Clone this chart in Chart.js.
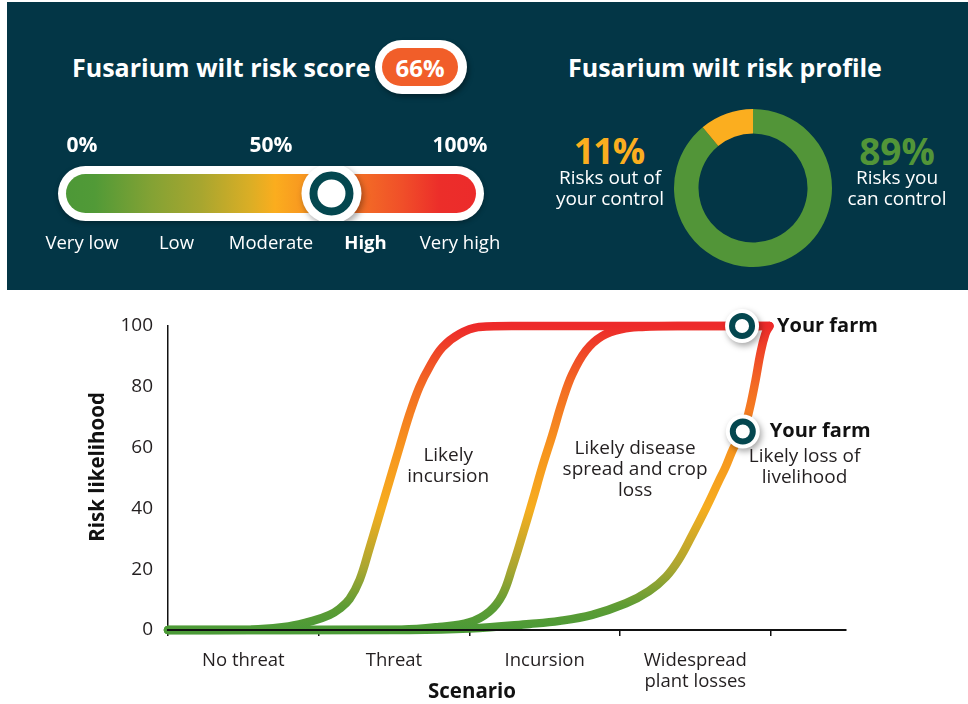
<!DOCTYPE html>
<html><head><meta charset="utf-8">
<script src="https://cdn.jsdelivr.net/npm/chart.js@4.4.1/dist/chart.umd.min.js"></script>
<style>
html,body{margin:0;padding:0;background:#fff;}
body{width:968px;height:704px;position:relative;overflow:hidden;font-family:'Open Sans',sans-serif;}
#panel{position:absolute;left:7px;top:2px;width:961px;height:288px;background:#033646;}
canvas{position:absolute;}
.t{position:absolute;white-space:nowrap;color:#fff;}
.c{transform:translate(-50%,-50%);text-align:center;}
.l{transform:translateY(-50%);}
</style></head><body>
<div id="panel"></div>
<div class="t l" style="left:72px;top:67px;font-weight:700;font-size:25px;">Fusarium wilt risk score</div>
<div style="position:absolute;left:375px;top:40px;width:92px;height:54px;border-radius:27px;background:#fff;box-shadow:2px 3px 5px rgba(0,0,0,0.35);"></div>
<div style="position:absolute;left:382px;top:48px;width:76px;height:38px;border-radius:19px;background:#F15E29;"></div>
<div class="t c" id="scoreText" style="left:420px;top:67px;font-weight:700;font-size:24px;"></div>
<canvas id="gauge" width="520" height="290" style="left:0;top:0;"></canvas>

<div class="t l" style="left:568px;top:67px;font-weight:700;font-size:25px;">Fusarium wilt risk profile</div>
<canvas id="donut" width="178" height="178" style="left:664px;top:99px;"></canvas>
<div class="t c" id="outPct" style="left:609px;top:150px;font-weight:700;font-size:36px;color:#FBAE1F;letter-spacing:-1px;"></div>
<div class="t c" id="outLbl" style="left:610px;top:188px;font-size:19px;line-height:21px;"></div>
<div class="t c" id="inPct" style="left:897px;top:150px;font-weight:700;font-size:37px;color:#529538;"></div>
<div class="t c" id="inLbl" style="left:897px;top:188px;font-size:19px;line-height:21px;"></div>

<canvas id="curves" width="968" height="414" style="left:0;top:290px;"></canvas>

<script>
const FONT = "'Open Sans', sans-serif";

// ---- Risk score gauge ----
const riskScore = 66;
const gaugeTicks = [0, 50, 100];
const gaugeTickLabels = ['0%', '50%', '100%'];
const bandTicks = [0, 25, 50, 75, 100];
const bandLabels = ['Very low', 'Low', 'Moderate', 'High', 'Very high'];
const currentBand = 'High';

// ---- Risk profile doughnut ----
const profileLabels = [['Risks you', 'can control'], ['Risks out of', 'your control']];
const profileValues = [89, 11];
const profileColors = ['#529538', '#FBAE1F'];

// ---- Scenario curves ----
const scenarioTicks = [0.5, 1.5, 2.5, 3.5];
const scenarioLabels = ['No threat', 'Threat', 'Incursion', ['Widespread', 'plant losses']];
const likelihoodTicks = [0, 20, 40, 60, 80, 100];

const incursionX = [0, 0.55, 0.8, 0.96, 1.073, 1.139, 1.205, 1.272, 1.338, 1.404, 1.47, 1.536, 1.603, 1.669, 1.735, 1.821, 1.934, 2.066, 2.3, 3.99];
const incursionY = [0, 0.1, 1.2, 3, 5, 7, 10.2, 16.5, 27, 38, 49, 60, 71, 80, 86.5, 93, 97.4, 99.7, 100, 100];

const spreadX = [0, 1.55, 1.8, 2.0, 2.132, 2.219, 2.285, 2.351, 2.417, 2.483, 2.55, 2.616, 2.682, 2.775, 2.881, 3.013, 3.146, 3.4, 3.99];
const spreadY = [0, 0.1, 1.0, 2.5, 6, 11.5, 20.5, 31, 42, 53.5, 64, 75, 84, 92, 96.7, 99, 99.7, 100, 100];

const livelihoodX = [0, 1.6, 2.0, 2.4, 2.6, 2.815, 3.04, 3.192, 3.305, 3.391, 3.477, 3.57, 3.656, 3.7, 3.755, 3.815, 3.854, 3.899, 3.932, 3.965, 3.993];
const livelihoodY = [0, 0, 0.5, 2.0, 3.0, 5, 8.8, 12.8, 17.5, 23.2, 31, 40, 49, 53.5, 60, 65.3, 71.5, 82, 91, 97.4, 100];

const farmX = [3.81, 3.815];
const farmY = [100, 65.3];
const farmLabel = 'Your farm';

const stageNotes = [
  { lines: ['Likely', 'incursion'], x: 1.86, y: 53.8 },
  { lines: ['Likely disease', 'spread and crop', 'loss'], x: 3.10, y: 52.8 },
  { lines: ['Likely loss of', 'livelihood'], x: 4.225, y: 53.6 }
];

// ---- texts ----
document.getElementById('scoreText').textContent = riskScore + '%';
document.getElementById('inPct').textContent = profileValues[0] + '%';
document.getElementById('outPct').textContent = profileValues[1] + '%';
document.getElementById('inLbl').innerHTML = profileLabels[0].join('<br>');
document.getElementById('outLbl').innerHTML = profileLabels[1].join('<br>');

function pill(ctx, x, y, w, h) {
  const r = h / 2;
  ctx.beginPath();
  ctx.moveTo(x + r, y);
  ctx.lineTo(x + w - r, y);
  ctx.arc(x + w - r, y + r, r, -Math.PI / 2, Math.PI / 2);
  ctx.lineTo(x + r, y + h);
  ctx.arc(x + r, y + r, r, Math.PI / 2, Math.PI * 1.5);
  ctx.closePath();
}

const shadowPlugin = {
  id: 'shadowPlugin',
  beforeDatasetDraw(chart, args) {
    if (chart.data.datasets[args.index].shadow) {
      const c = chart.ctx; c.save();
      c.shadowColor = 'rgba(0,0,0,0.35)'; c.shadowBlur = 6; c.shadowOffsetX = 2; c.shadowOffsetY = 3;
    }
  },
  afterDatasetDraw(chart, args) {
    if (chart.data.datasets[args.index].shadow) chart.ctx.restore();
  }
};

const gaugeTrack = {
  id: 'gaugeTrack',
  beforeDatasetsDraw(chart) {
    const { ctx, chartArea, scales: { x } } = chart;
    const x0 = x.getPixelForValue(0) - 24, x1 = x.getPixelForValue(100) + 24;
    const top = chartArea.top, h = chartArea.bottom - chartArea.top;
    ctx.save();
    ctx.shadowColor = 'rgba(0,0,0,0.3)'; ctx.shadowBlur = 5; ctx.shadowOffsetY = 2;
    pill(ctx, x0, top, x1 - x0, h); ctx.fillStyle = '#fff'; ctx.fill();
    ctx.restore();
    ctx.save();
    const inset = 8;
    const g = ctx.createLinearGradient(x0 + inset, 0, x1 - inset, 0);
    g.addColorStop(0, '#4D9837'); g.addColorStop(0.07, '#519A37'); g.addColorStop(0.21, '#84A234');
    g.addColorStop(0.33, '#A8A62F'); g.addColorStop(0.45, '#DBAE25'); g.addColorStop(0.51, '#FBAD1E');
    g.addColorStop(0.67, '#F47B24'); g.addColorStop(0.82, '#F04F29'); g.addColorStop(0.91, '#EC2E2A'); g.addColorStop(1, '#EC2B2B');
    pill(ctx, x0 + inset, top + inset, x1 - x0 - 2 * inset, h - 2 * inset); ctx.fillStyle = g; ctx.fill();
    ctx.restore();
  }
};

new Chart(document.getElementById('gauge'), {
  type: 'scatter',
  data: { datasets: [
    { data: [{ x: riskScore, y: 0 }], order: 1, pointRadius: 18, pointBackgroundColor: '#fff', pointBorderColor: '#04474F', pointBorderWidth: 8 },
    { data: [{ x: riskScore, y: 0 }], order: 2, pointRadius: 30, pointBackgroundColor: '#fff', pointBorderWidth: 0, shadow: true }
  ] },
  options: {
    responsive: false, animation: false, events: [],
    layout: { padding: { left: 82, right: 60, top: 126, bottom: 29 } },
    plugins: { legend: { display: false }, tooltip: { enabled: false } },
    scales: {
      x: {
        type: 'linear', position: 'bottom', min: 0, max: 100,
        afterBuildTicks: s => { s.ticks = bandTicks.map(v => ({ value: v })); },
        afterFit: s => { s.height = 40; },
        grid: { display: false, drawTicks: false }, border: { display: false },
        ticks: { color: '#fff', padding: 12, maxRotation: 0, autoSkip: false,
          font: c => ({ family: FONT, size: 18.5, weight: bandLabels[c.index] === currentBand ? 'bold' : 'normal' }),
          callback: (v, i) => bandLabels[i] }
      },
      xTop: {
        type: 'linear', axis: 'x', position: 'top', min: 0, max: 100,
        afterBuildTicks: s => { s.ticks = gaugeTicks.map(v => ({ value: v })); },
        afterFit: s => { s.height = 40; },
        grid: { display: false, drawTicks: false }, border: { display: false },
        ticks: { color: '#fff', padding: 7, maxRotation: 0, autoSkip: false,
          font: { family: FONT, size: 21, weight: 'bold' },
          callback: (v, i) => gaugeTickLabels[i] }
      },
      y: { display: false, min: -1, max: 1 }
    }
  },
  plugins: [gaugeTrack, shadowPlugin]
});

new Chart(document.getElementById('donut'), {
  type: 'doughnut',
  data: { labels: profileLabels.map(l => l.join(' ')), datasets: [{ data: profileValues, backgroundColor: profileColors, borderWidth: 0 }] },
  options: { responsive: false, animation: false, events: [], cutout: '69%', layout: { padding: 10 },
    plugins: { legend: { display: false }, tooltip: { enabled: false } } }
});

function riskGradient(chart) {
  const { ctx, chartArea } = chart;
  const g = ctx.createLinearGradient(0, chartArea.bottom, 0, chartArea.top);
  g.addColorStop(0, '#4B9A37'); g.addColorStop(0.08, '#5E9C34'); g.addColorStop(0.2, '#A8A631');
  g.addColorStop(0.4, '#F6AD1F'); g.addColorStop(0.6, '#F7941E'); g.addColorStop(0.8, '#F36C23');
  g.addColorStop(0.95, '#EE3A29'); g.addColorStop(1, '#ED2A2A');
  return g;
}
const mk = (xs, ys) => xs.map((x, i) => ({ x, y: ys[i] }));
const lineStyle = {
  borderColor: c => c.chart.chartArea ? riskGradient(c.chart) : '#4B9A37',
  borderWidth: 8.5, pointRadius: 0, tension: 0.4,
  borderCapStyle: 'round', borderJoinStyle: 'round', fill: false, clip: false, order: 3
};

const curveDecor = {
  id: 'curveDecor',
  afterDraw(chart) {
    const { ctx, scales: { x, y }, chartArea } = chart;
    ctx.save();
    ctx.fillStyle = '#231F20'; ctx.textAlign = 'center'; ctx.textBaseline = 'middle';
    ctx.font = `19px ${FONT}`;
    stageNotes.forEach(n => {
      const px = x.getPixelForValue(n.x), py = y.getPixelForValue(n.y);
      const lh = 21, y0 = py - (n.lines.length - 1) * lh / 2;
      n.lines.forEach((l, i) => ctx.fillText(l, px, y0 + i * lh));
    });
    ctx.font = `bold 20px ${FONT}`; ctx.fillStyle = '#111'; ctx.textAlign = 'left';
    const offs = [35, 27];
    farmX.forEach((fx, i) => ctx.fillText(farmLabel, x.getPixelForValue(fx) + offs[i], y.getPixelForValue(farmY[i])));
    ctx.textAlign = 'center';
    ctx.font = `bold 20.5px ${FONT}`;
    ctx.fillText('Scenario', (chartArea.left + chartArea.right) / 2 - 35, chartArea.bottom + 62);
    ctx.translate(chartArea.left - 70, (chartArea.top + chartArea.bottom) / 2 - 11);
    ctx.rotate(-Math.PI / 2);
    ctx.fillText('Risk likelihood', 0, 0);
    ctx.restore();
  }
};

new Chart(document.getElementById('curves'), {
  type: 'line',
  data: { datasets: [
    { label: 'Likely incursion', data: mk(incursionX, incursionY), ...lineStyle },
    { label: 'Likely disease spread and crop loss', data: mk(spreadX, spreadY), ...lineStyle },
    { label: 'Likely loss of livelihood', data: mk(livelihoodX, livelihoodY), ...lineStyle },
    { label: 'farm halo', data: mk(farmX, farmY), showLine: false, pointRadius: 17, pointBackgroundColor: '#fff', pointBorderWidth: 0, order: 2, shadow: true, clip: false },
    { label: farmLabel, data: mk(farmX, farmY), showLine: false, pointRadius: 10, pointBackgroundColor: '#fff', pointBorderColor: '#04474F', pointBorderWidth: 6, order: 1, clip: false }
  ] },
  options: {
    responsive: false, animation: false, events: [],
    layout: { padding: { left: 0, top: 36, right: 122, bottom: 0 } },
    plugins: { legend: { display: false }, tooltip: { enabled: false } },
    scales: {
      x: {
        type: 'linear', min: 0, max: 4.5,
        afterBuildTicks: s => { s.ticks = scenarioTicks.map(v => ({ value: v })); },
        afterFit: s => { s.height = 74; },
        grid: { display: true, drawOnChartArea: false, drawTicks: true, tickLength: 6, offset: true, color: '#111', lineWidth: 1.5 },
        border: { display: true, color: '#111', width: 2, z: 1 },
        ticks: { padding: 15, color: '#231F20', maxRotation: 0, autoSkip: false,
          font: { family: FONT, size: 18.5, lineHeight: 1.1 },
          callback: (v, i) => scenarioLabels[i] }
      },
      y: {
        type: 'linear', min: 0, max: 100,
        afterBuildTicks: s => { s.ticks = likelihoodTicks.map(v => ({ value: v })); },
        afterFit: s => { s.width = 168; },
        grid: { display: false, drawTicks: false },
        border: { display: true, color: '#111', width: 1.5 },
        ticks: { padding: 15, color: '#231F20', font: { family: FONT, size: 19 } }
      }
    }
  },
  plugins: [shadowPlugin, curveDecor]
});
</script>
</body></html>
